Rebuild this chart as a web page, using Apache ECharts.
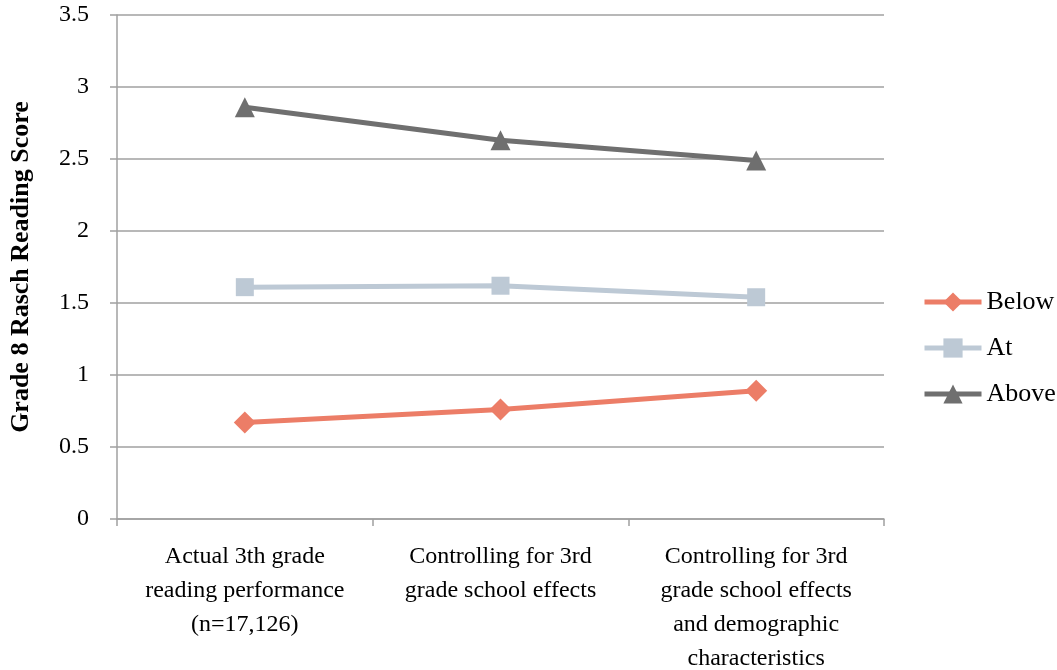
<!DOCTYPE html>
<html><head><meta charset="utf-8">
<script src="https://cdn.jsdelivr.net/npm/echarts@6/dist/echarts.min.js"></script>
<style>html,body{margin:0;padding:0;background:#fff}#c{width:1057px;height:670px}</style>
</head><body><div id="c"></div>
<script>
var categories = ['Actual 3th grade\nreading performance\n(n=17,126)', 'Controlling for 3rd\ngrade school effects', 'Controlling for 3rd\ngrade school effects\nand demographic\ncharacteristics'];
var below = [0.67, 0.76, 0.89];
var at = [1.61, 1.62, 1.54];
var above = [2.86, 2.63, 2.49];
var yTicks = [0, 0.5, 1, 1.5, 2, 2.5, 3, 3.5];

var chart = echarts.init(document.getElementById('c'), null, {renderer: 'canvas'});
var serif = '"Liberation Serif", "DejaVu Serif", serif';
chart.setOption({
  animation: false,
  grid: {left: 117, right: 173, top: 15, bottom: 151, containLabel: false, outerBoundsMode: 'none'},
  legend: {
    orient: 'vertical', left: 922, top: 289, padding: 0, itemGap: 20, itemWidth: 57, itemHeight: 24,
    textStyle: {fontFamily: serif, fontSize: 26, color: '#000'},
    lineStyle: {width: 5},
    data: ['Below', 'At', 'Above']
  },
  xAxis: {
    type: 'category', data: categories, boundaryGap: true,
    axisLine: {lineStyle: {color: '#a0a0a0', width: 1.5}},
    axisTick: {show: true, length: 7, lineStyle: {color: '#a0a0a0', width: 1.5}},
    axisLabel: {fontFamily: serif, fontSize: 24, color: '#000', lineHeight: 34, margin: 21, interval: 0, align: 'center'}
  },
  yAxis: {
    type: 'value', min: 0, max: 3.5, interval: 0.5,
    name: 'Grade 8 Rasch Reading Score', nameLocation: 'middle', nameGap: 83,
    nameTextStyle: {fontFamily: serif, fontSize: 26, fontWeight: 'bold', color: '#000'},
    axisLine: {show: true, lineStyle: {color: '#a0a0a0', width: 1.5}},
    axisTick: {show: true, length: 7, lineStyle: {color: '#a0a0a0', width: 1.5}},
    splitLine: {lineStyle: {color: '#a0a0a0', width: 1.5}},
    axisLabel: {fontFamily: serif, fontSize: 24, color: '#000', margin: 28,
      formatter: function (v) { return yTicks.indexOf(v) >= 0 ? String(v) : ''; }}
  },
  series: [
    {name: 'Below', type: 'line', data: below, symbol: 'diamond', symbolSize: 22,
     lineStyle: {color: '#EC7D67', width: 5}, itemStyle: {color: '#EC7D67'}},
    {name: 'At', type: 'line', data: at, symbol: 'rect', symbolSize: 18,
     lineStyle: {color: '#BDC9D5', width: 5}, itemStyle: {color: '#BDC9D5'}},
    {name: 'Above', type: 'line', data: above, symbol: 'triangle', symbolSize: 20,
     lineStyle: {color: '#6F6F6F', width: 5}, itemStyle: {color: '#6F6F6F'}}
  ]
});
</script></body></html>
